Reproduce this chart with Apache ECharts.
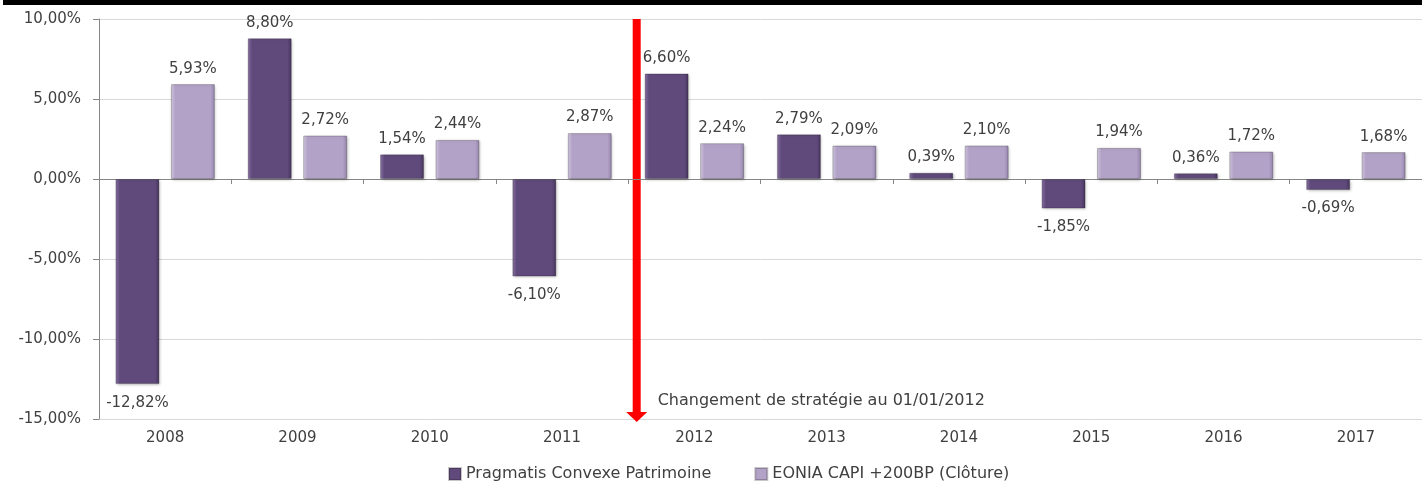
<!DOCTYPE html>
<html>
<head>
<meta charset="utf-8">
<script src="https://cdn.jsdelivr.net/npm/echarts@6/dist/echarts.min.js"></script>
<style>
  html, body { margin: 0; padding: 0; background: #fff; }
  #chart { width: 1422px; height: 482px; }
</style>
</head>
<body>
<div id="chart"></div>
<script>
const years = ['2008', '2009', '2010', '2011', '2012', '2013', '2014', '2015', '2016', '2017']
const fundValues = [-12.82, 8.8, 1.54, -6.1, 6.6, 2.79, 0.39, -1.85, 0.36, -0.69]
const benchValues = [5.93, 2.72, 2.44, 2.87, 2.24, 2.09, 2.1, 1.94, 1.72, 1.68]
const yTicks = [-15, -10, -5, 0, 5, 10]
const seriesNames = ['Pragmatis Convexe Patrimoine', 'EONIA CAPI +200BP (Clôture)']
const note = 'Changement de stratégie au 01/01/2012'

const font = '"DejaVu Sans", Verdana, sans-serif'
const textColor = '#404040'
const axisColor = '#868686'
const pct = (v) => v.toFixed(2).replace('.', ',') + '%'

function bevel(base, light, dark) {
  return {
    type: 'linear', x: 0, y: 0, x2: 1, y2: 0,
    colorStops: [
      { offset: 0, color: light },
      { offset: 0.1, color: base },
      { offset: 0.9, color: base },
      { offset: 1, color: dark },
    ],
  }
}

function barSeries(name, values, color) {
  return {
    name,
    type: 'bar',
    xAxisIndex: 0,
    data: values.map((v) => ({
      value: v,
      label: { position: v < 0 ? 'bottom' : 'top', distance: v < 0 ? 11 : 8 },
    })),
    barWidth: 44,
    barGap: '26%',
    itemStyle: {
      color,
      borderColor: 'rgba(0,0,0,0.22)',
      borderWidth: 1,
      shadowColor: 'rgba(0,0,0,0.3)',
      shadowBlur: 3,
      shadowOffsetX: 1,
      shadowOffsetY: 1,
    },
    label: {
      show: true,
      formatter: (p) => pct(p.value),
      color: textColor,
      fontFamily: font,
      fontSize: 15,
    },
  }
}

const chart = echarts.init(document.getElementById('chart'))

chart.setOption({
  animation: false,
  textStyle: { fontFamily: font },
  grid: { left: 99, right: -4, top: 19, bottom: 63, containLabel: false },
  legend: {
    top: 461,
    left: 443,
    itemWidth: 12,
    itemHeight: 12,
    itemGap: 43,
    icon: 'rect',
    textStyle: { color: textColor, fontSize: 16, fontFamily: font },
    data: seriesNames,
  },
  xAxis: [
    {
      // axis line through zero, with tick marks between years
      type: 'category',
      data: years,
      axisLine: { onZero: true, lineStyle: { color: axisColor } },
      axisTick: { show: true, length: 5, lineStyle: { color: axisColor } },
      axisLabel: { show: false },
    },
    {
      type: 'category',
      data: years,
      position: 'bottom',
      axisLine: { onZero: false, show: false },
      axisTick: { show: false },
      axisLabel: { color: textColor, fontSize: 15, margin: 12, fontFamily: font },
    },
  ],
  yAxis: {
    type: 'value',
    min: yTicks[0],
    max: yTicks[yTicks.length - 1],
    interval: 5,
    axisLine: { show: true, lineStyle: { color: axisColor } },
    axisTick: { show: true, length: 6, lineStyle: { color: axisColor } },
    splitLine: { lineStyle: { color: '#d9d9d9' } },
    axisLabel: {
      color: textColor,
      fontSize: 15,
      margin: 18,
      fontFamily: font,
      formatter: (v) => pct(v),
    },
  },
  series: [
    barSeries(seriesNames[0], fundValues, bevel('#604a7b', '#8a73a6', '#46345c')),
    barSeries(seriesNames[1], benchValues, bevel('#b3a2c7', '#d6cbe3', '#9482ab')),
  ],
})

// strategy change arrow just after the 2011/2012 boundary
function drawAnnotations() {
  const xa = chart.convertToPixel({ xAxisIndex: 0 }, '2011')
  const xb = chart.convertToPixel({ xAxisIndex: 0 }, '2012')
  const x = (xa + xb) / 2 + 8.5
  const top = chart.convertToPixel({ yAxisIndex: 0 }, yTicks[yTicks.length - 1])
  const bottom = chart.convertToPixel({ yAxisIndex: 0 }, yTicks[0])
  chart.setOption({
    graphic: [
      { type: 'rect', shape: { x: 3, y: 0, width: 1419, height: 5 }, style: { fill: '#000' } },
      { type: 'rect', shape: { x: x - 4, y: top, width: 8, height: bottom - top - 6 }, style: { fill: '#ff0000' } },
      {
        type: 'polygon',
        shape: { points: [[x - 10.5, bottom - 7], [x + 10.5, bottom - 7], [x, bottom + 3]] },
        style: { fill: '#ff0000' },
      },
      {
        type: 'text',
        x: x + 21,
        y: bottom - 18,
        style: { text: note, fill: textColor, font: '16px ' + font, textVerticalAlign: 'middle' },
      },
    ],
  })
}
drawAnnotations()
</script>
</body>
</html>
